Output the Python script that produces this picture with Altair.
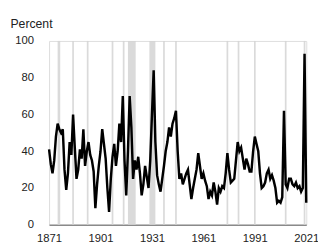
import altair as alt
import pandas as pd

years = list(range(1871, 2022))
values = [
    41, 33, 28, 35, 48, 55, 52, 50, 52, 30,   # 1871-1880
    19, 28, 45, 38, 60, 42, 25, 30, 41, 36,   # 1881-1890
    52, 32, 40, 45, 38, 35, 29, 9, 22, 32,    # 1891-1900
    40, 52, 44, 36, 20, 7, 25, 37, 44, 32,    # 1901-1910
    40, 55, 45, 70, 35, 16, 40, 70, 53, 25,   # 1911-1920
    35, 30, 37, 28, 16, 22, 32, 26, 20, 35,   # 1921-1930
    60, 84, 45, 27, 22, 18, 25, 32, 40, 45,   # 1931-1940
    53, 48, 55, 58, 62, 40, 25, 28, 22, 25,   # 1941-1950
    28, 30, 22, 14, 20, 25, 30, 39, 32, 25,   # 1951-1960
    28, 24, 21, 14, 18, 16, 23, 18, 11, 20,   # 1961-1970
    18, 21, 20, 28, 39, 30, 23, 24, 25, 35,   # 1971-1980
    45, 40, 42, 36, 30, 36, 33, 29, 29, 40,   # 1981-1990
    48, 44, 40, 28, 20, 21, 23, 28, 30, 25,   # 1991-2000
    27, 24, 20, 12, 13, 12, 15, 62, 22, 20,   # 2001-2010
    25, 25, 22, 21, 23, 20, 21, 18, 20, 93,   # 2011-2020
    12,                                       # 2021
]

band_start = [1876, 1884.5, 1893, 1907.5, 1914, 1917, 1929.5, 1937.5, 1944.5,
              1974.5, 1981, 1990.5, 2008.5, 2019.5]
band_end = [1877.5, 1885.5, 1894, 1908.5, 1915, 1921.5, 1933, 1938.5, 1945.5,
            1975.5, 1982, 1991.5, 2009.5, 2020.5]

x_ticks = [1871, 1901, 1931, 1961, 1991, 2021]
y_ticks = [0, 20, 40, 60, 80, 100]

df = pd.DataFrame({"year": years, "value": values})
bands = pd.DataFrame({"start": band_start, "end": band_end, "lo": 0, "hi": 100})

FONT = "Liberation Sans"

xscale = alt.Scale(domain=[1871, 2021], nice=False, zero=False)
yscale = alt.Scale(domain=[0, 100], nice=False)

x_axis = alt.Axis(
    values=x_ticks, format="d", title=None, grid=False, ticks=False,
    domain=True, domainColor="#8a8a8a", domainWidth=1.5,
    labelFont=FONT, labelFontSize=11.5, labelColor="#222222",
    labelPadding=8, labelFlush=False, labelOverlap=False,
)
y_axis = alt.Axis(
    values=y_ticks, title="Percent", grid=False, ticks=False, tickSize=0,
    domain=False, labelFont=FONT, labelFontSize=11.5, labelColor="#222222",
    labelPadding=16, labelOverlap=False, labelBound=False,
    titleAngle=0, titleX=-40, titleY=-14,
    titleAlign="left", titleBaseline="alphabetic", titleFont=FONT,
    titleFontSize=12.5, titleFontWeight="normal", titleColor="#222222",
)

rects = alt.Chart(bands).mark_rect(color="#d4d4d4", opacity=0.85).encode(
    x=alt.X("start:Q", scale=xscale, axis=x_axis),
    x2="end:Q",
    y=alt.Y("lo:Q", scale=yscale, axis=y_axis),
    y2="hi:Q",
)

line = alt.Chart(df).mark_line(color="#000000", strokeWidth=2.5, strokeJoin="miter").encode(
    x=alt.X("year:Q", scale=xscale, axis=x_axis),
    y=alt.Y("value:Q", scale=yscale, axis=y_axis),
)

chart = alt.layer(rects, line).properties(
    width=263,
    height=188,
    autosize=alt.AutoSizeParams(type="none"),
    padding={"left": 42, "top": 31, "right": 12, "bottom": 20},
).configure_view(stroke=None).configure_axis(labelOverlap=False).configure(background="#ffffff")

chart.save("out.html", embed_options={"renderer": "svg", "actions": False})
